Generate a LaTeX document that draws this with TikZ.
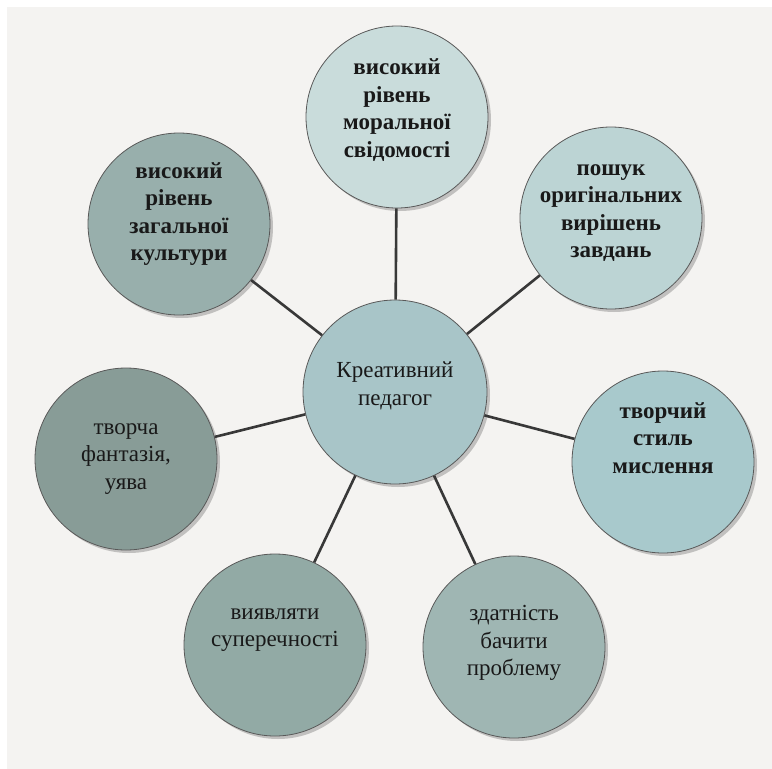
\documentclass[tikz,border=0pt]{standalone}
\usepackage{fontspec}
\setmainfont{Liberation Serif}
\usetikzlibrary{positioning, shadows}

\definecolor{paper}{HTML}{F4F3F1}
\definecolor{hubfill}{HTML}{A8C5C8}
\definecolor{moralfill}{HTML}{C9DCDB}
\definecolor{searchfill}{HTML}{BCD4D4}
\definecolor{stylefill}{HTML}{A8C9CC}
\definecolor{problemfill}{HTML}{9FB6B3}
\definecolor{contrafill}{HTML}{92AAA5}
\definecolor{fantasyfill}{HTML}{889C97}
\definecolor{culturefill}{HTML}{98AFAC}

\begin{document}
\begin{tikzpicture}[x=1pt, y=-1pt, on grid,
    idea/.style={circle, draw=black!65, line width=0.8pt, minimum size=182pt, inner sep=0pt,
        drop shadow={shadow xshift=3pt, shadow yshift=-3pt, opacity=0.3, fill=black!70}},
    txt/.style={align=center, inner sep=0pt, text=black!90, font=\fontsize{23}{27.5}\selectfont},
    strong/.style={txt, font=\fontsize{23}{27.5}\selectfont\bfseries},
    link/.style={draw=black!78, line width=2.6pt}]
    \useasboundingbox (0,0) rectangle (772,769);
    \fill[white] (0,0) rectangle (772,769);
    \fill[paper] (7,7) rectangle (772,769);

    \node[idea, fill=hubfill, minimum size=184pt] (hub) at (395,392) {};
    \node[idea, fill=moralfill] (moral) at (397,117) {};
    \node[idea, fill=searchfill] (search) at (611,218) {};
    \node[idea, fill=stylefill] (style) at (663,462) {};
    \node[idea, fill=problemfill] (problem) at (514,647) {};
    \node[idea, fill=contrafill] (contra) at (275,645) {};
    \node[idea, fill=fantasyfill] (fantasy) at (126,459) {};
    \node[idea, fill=culturefill] (culture) at (179,224) {};

    \node[txt, above=6pt of hub] (hubtext) {Креативний\\педагог};
    \node[strong, above=7pt of moral] (moraltext) {високий\\рівень\\моральної\\свідомості};
    \node[strong, above=5pt of search] (searchtext) {пошук\\оригінальних\\вирішень\\завдань};
    \node[strong, above=24pt of style] (styletext) {творчий\\стиль\\мислення};
    \node[txt, above=4pt of problem] (problemtext) {здатність\\бачити\\проблему};
    \node[txt, above=15pt of contra] (contratext) {виявляти\\суперечності};
    \node[txt, above=0pt of fantasy] (fantasytext) {творча\\фантазія,\\уява};
    \node[strong, above=10pt of culture] (culturetext) {високий\\рівень\\загальної\\культури};

    \path[link]
    (hub) edge (moral)
    (hub) edge (search)
    (hub) edge (style)
    (hub) edge (problem)
    (hub) edge (contra)
    (hub) edge (fantasy)
    (hub) edge (culture);
\end{tikzpicture}
\end{document}
